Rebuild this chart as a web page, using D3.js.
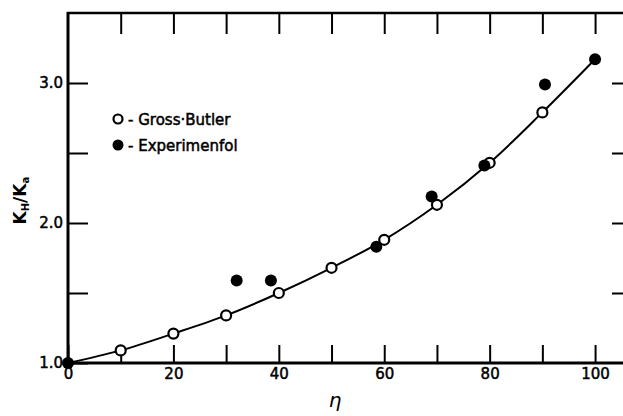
<!DOCTYPE html>
<html>
<head>
<meta charset="utf-8">
<script src="https://cdn.jsdelivr.net/npm/d3@7"></script>
<style>
  body { margin: 0; background: #fff; }
  text { font-family: "DejaVu Sans", sans-serif; fill: #000; }
</style>
</head>
<body>
<svg id="chart" width="623" height="416"></svg>
<script>
// Gross-Butler calculated values (open circles)
const gb_eta = [10, 20, 30, 40, 50, 60, 70, 80, 90];
const gb_ratio = [1.09, 1.21, 1.34, 1.50, 1.68, 1.88, 2.13, 2.43, 2.79];

// Experimental values (filled circles)
const exp_eta = [0, 32, 38.5, 58.5, 69, 79, 90.5, 100];
const exp_ratio = [1.0, 1.59, 1.59, 1.83, 2.19, 2.41, 2.99, 3.17];

// smooth curve through the Gross-Butler points
const curve_eta = [0, 10, 20, 30, 40, 50, 60, 70, 80, 90, 100];
const curve_ratio = [1.0, 1.09, 1.21, 1.34, 1.50, 1.68, 1.88, 2.13, 2.43, 2.79, 3.17];

const x_ticks = [0, 10, 20, 30, 40, 50, 60, 70, 80, 90, 100];
const x_labels = [0, 20, 40, 60, 80, 100];
const y_ticks = [1.0, 1.5, 2.0, 2.5, 3.0];
const y_labels = [1.0, 2.0, 3.0];

let chart = d3.select("#chart");

// Scales
const xScale = d3.scaleLinear().domain([0, 105.3]).range([68, 623]);
const yScale = d3.scaleLinear().domain([1.0, 3.5]).range([363, 13]);

// Axes
const xAxis = d3.axisBottom(xScale)
      .tickValues(x_ticks)
      .tickSize(-18)
      .tickPadding(5)
      .tickFormat(d => x_labels.includes(d) ? d : "");
const xAxisG = chart.append("g")
      .attr("transform", `translate(0,${yScale(1.0)})`)
      .call(xAxis);

const xTop = d3.axisTop(xScale)
      .tickValues(x_ticks.slice(1))
      .tickSize(-21)
      .tickFormat("");
const xTopG = chart.append("g")
      .attr("transform", `translate(0,${yScale(3.5)})`)
      .call(xTop);

const yAxis = d3.axisLeft(yScale)
      .tickValues(y_ticks)
      .tickSize(-20)
      .tickPadding(5)
      .tickFormat(d => y_labels.includes(d) ? d3.format(".1f")(d) : "");
const yAxisG = chart.append("g")
      .attr("transform", `translate(${xScale(0)},0)`)
      .call(yAxis);

const yRight = d3.axisRight(yScale)
      .tickValues(y_ticks.slice(1))
      .tickSize(-11)
      .tickFormat("");
const yRightG = chart.append("g")
      .attr("transform", `translate(623,0)`)
      .call(yRight);

chart.selectAll(".domain").remove();

// Frame lines
chart.append("line")
      .attr("x1", xScale(0) - 1).attr("x2", 623)
      .attr("y1", yScale(3.5)).attr("y2", yScale(3.5))
      .attr("stroke", "#000").attr("stroke-width", 2.5);
chart.append("line")
      .attr("x1", xScale(0) - 1).attr("x2", 623)
      .attr("y1", yScale(1.0)).attr("y2", yScale(1.0))
      .attr("stroke", "#000").attr("stroke-width", 3);
chart.append("line")
      .attr("x1", xScale(0)).attr("x2", xScale(0))
      .attr("y1", yScale(1.0) + 1).attr("y2", yScale(3.5) - 1)
      .attr("stroke", "#000").attr("stroke-width", 3);

chart.selectAll(".tick line").attr("stroke", "#000").attr("stroke-width", 2);
chart.selectAll(".tick text")
      .attr("font-size", "15px")
      .attr("font-family", "DejaVu Sans, sans-serif")
      .attr("fill", "#000")
      .attr("stroke", "#000")
      .attr("stroke-width", 0.5);

// Axis titles
const yTitle = chart.append("text")
      .attr("transform", `translate(26,${yScale(2.16)}) rotate(-90)`)
      .attr("text-anchor", "middle")
      .attr("font-size", "17px")
      .attr("font-weight", "bold");
yTitle.append("tspan").text("K");
yTitle.append("tspan").text("H").attr("font-size", "10px").attr("dy", 3);
yTitle.append("tspan").text("/K").attr("dy", -3);
yTitle.append("tspan").text("a").attr("font-size", "10px").attr("dy", 3);

chart.append("text")
      .attr("x", 335).attr("y", 407)
      .attr("text-anchor", "middle")
      .attr("font-family", "DejaVu Serif, serif")
      .attr("font-style", "italic")
      .attr("font-size", "20px")
      .text("η");

// Curve
const line = d3.line()
      .x((d, i) => xScale(curve_eta[i]))
      .y(d => yScale(d))
      .curve(d3.curveCatmullRom);
chart.append("path")
      .attr("d", line(curve_ratio))
      .attr("fill", "none")
      .attr("stroke", "#000")
      .attr("stroke-width", 2);

// Points
chart.selectAll("circle.gb")
      .data(gb_ratio).enter()
      .append("circle")
      .attr("class", "gb")
      .attr("cx", (d, i) => xScale(gb_eta[i]))
      .attr("cy", d => yScale(d))
      .attr("r", 5)
      .attr("fill", "#fff")
      .attr("stroke", "#000")
      .attr("stroke-width", 2.2);

chart.selectAll("circle.exp")
      .data(exp_ratio).enter()
      .append("circle")
      .attr("class", "exp")
      .attr("cx", (d, i) => xScale(exp_eta[i]))
      .attr("cy", d => yScale(d))
      .attr("r", 6)
      .attr("fill", "#000");

// Legend
const legend = chart.append("g");
legend.append("circle")
      .attr("cx", 118).attr("cy", 119).attr("r", 4.5)
      .attr("fill", "#fff").attr("stroke", "#000").attr("stroke-width", 2.2);
legend.append("text")
      .attr("x", 128).attr("y", 125)
      .attr("font-size", "15px")
      .attr("stroke", "#000").attr("stroke-width", 0.5)
      .text("- Gross·Butler");
legend.append("circle")
      .attr("cx", 118).attr("cy", 145).attr("r", 5.5)
      .attr("fill", "#000");
legend.append("text")
      .attr("x", 128).attr("y", 151)
      .attr("font-size", "15px")
      .attr("stroke", "#000").attr("stroke-width", 0.5)
      .text("- Experimenfol");
</script>
</body>
</html>
